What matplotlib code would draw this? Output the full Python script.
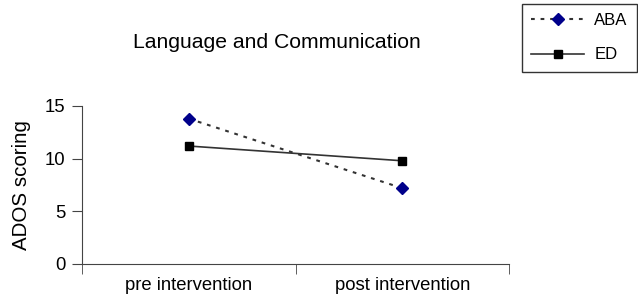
import matplotlib.pyplot as plt

categories = ['pre intervention', 'post intervention']
aba = [13.8, 7.2]
ed = [11.2, 9.8]

plt.rcParams['font.family'] = ['Liberation Sans', 'DejaVu Sans']

fig = plt.figure(figsize=(6.38, 2.99), dpi=100)
ax = fig.add_axes([82 / 638, 35 / 299, 427 / 638, 158 / 299])

x = range(len(categories))
ax.plot(x, aba, linestyle=(0, (1.8, 2.8)), color='#333333', linewidth=1.5,
        marker='D', markersize=6, markerfacecolor='#00008b', markeredgecolor='#00008b', label='ABA')
ax.plot(x, ed, linestyle='-', color='#333333', linewidth=1.2,
        marker='s', markersize=6, markerfacecolor='black', markeredgecolor='black', label='ED')

ax.set_xlim(-0.5, 1.5)
ax.set_ylim(0, 15)
ax.set_yticks([0, 5, 10, 15])
ax.set_xticks(list(x))
ax.set_xticks([-0.5, 0.5, 1.5], minor=True)
ax.set_xticklabels(categories, fontsize=13.3)
ax.tick_params(axis='x', which='major', length=0, pad=9)
ax.tick_params(axis='x', which='minor', length=7, color='#444444')
ax.tick_params(axis='y', labelsize=13.3, length=7, color='#444444', pad=5)
ax.spines['top'].set_visible(False)
ax.spines['right'].set_visible(False)
ax.spines['left'].set_color('#444444')
ax.spines['bottom'].set_color('#444444')
ax.set_ylabel('ADOS scoring', fontsize=14.8, labelpad=10)

fig.text(277 / 638, 1 - 42 / 299, 'Language and Communication', ha='center', va='center', fontsize=15.2)

leg = fig.legend(loc='upper right', bbox_to_anchor=(637 / 638, 1 - 4 / 299), fontsize=12,
                 frameon=True, fancybox=False, edgecolor='black', handlelength=3.2,
                 handletextpad=0.6, borderpad=0.55, labelspacing=1.15, borderaxespad=0)
leg.get_frame().set_linewidth(1)

fig.savefig('out.png', dpi=100)
